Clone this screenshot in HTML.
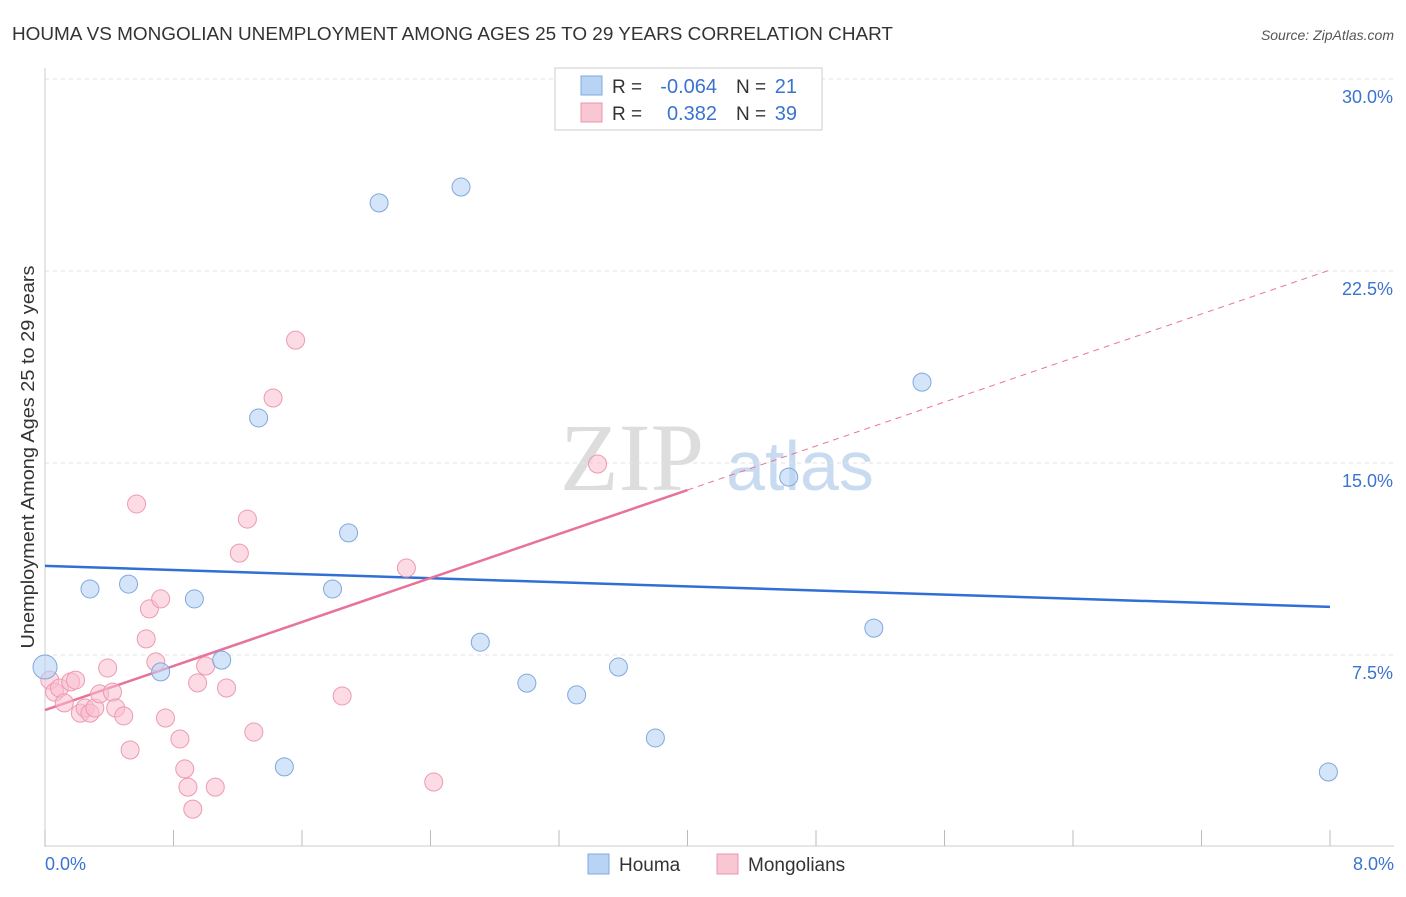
<!DOCTYPE html>
<html><head><meta charset="utf-8"><style>
body{margin:0;background:#fff;font-family:"Liberation Sans",sans-serif;}
</style></head><body>
<svg width="1406" height="892" xmlns="http://www.w3.org/2000/svg" font-family="Liberation Sans, sans-serif">
<text x="12" y="40" font-size="18" fill="#333" textLength="881" lengthAdjust="spacingAndGlyphs">HOUMA VS MONGOLIAN UNEMPLOYMENT AMONG AGES 25 TO 29 YEARS CORRELATION CHART</text>
<text x="1394" y="40" font-size="14" fill="#555" text-anchor="end" font-style="italic">Source: ZipAtlas.com</text>
<text x="34" y="457" font-size="18" fill="#333" text-anchor="middle" textLength="383" lengthAdjust="spacingAndGlyphs" transform="rotate(-90 34 457)">Unemployment Among Ages 25 to 29 years</text>
<g><text x="632" y="490" font-size="96" fill="#ddd" font-family="Liberation Serif, serif" text-anchor="middle">ZIP</text><text x="800" y="490" font-size="70" fill="#c9dbf0" text-anchor="middle">atlas</text></g>
<g id="grid"></g><g id="axes"></g><g id="lines"></g><g id="pts"></g>
<g>
<rect x="555" y="68" width="267" height="62" fill="#fff" stroke="#ccc"/>
<rect x="581" y="76" width="21" height="19" fill="#b9d3f5" stroke="#7fa8dd"/>
<rect x="581" y="103" width="21" height="19" fill="#f9c6d4" stroke="#e896ad"/>
<text x="612" y="93" font-size="19" fill="#333">R =</text>
<text x="717" y="93" font-size="20" fill="#3a74d0" text-anchor="end">-0.064</text>
<text x="736" y="93" font-size="19" fill="#333">N =</text>
<text x="797" y="93" font-size="20" fill="#3a74d0" text-anchor="end">21</text>
<text x="612" y="120" font-size="19" fill="#333">R =</text>
<text x="717" y="120" font-size="20" fill="#3a74d0" text-anchor="end">0.382</text>
<text x="736" y="120" font-size="19" fill="#333">N =</text>
<text x="797" y="120" font-size="20" fill="#3a74d0" text-anchor="end">39</text>
</g>
<g>
<rect x="588" y="854" width="21" height="20" fill="#b9d3f5" stroke="#7fa8dd"/>
<text x="619" y="871" font-size="19" fill="#333">Houma</text>
<rect x="717" y="854" width="21" height="20" fill="#f9c6d4" stroke="#e896ad"/>
<text x="748" y="871" font-size="19" fill="#333">Mongolians</text>
</g>
</svg>
<script>
const houmaX=[0,0.28,0.52,0.72,0.93,1.10,1.33,1.49,1.79,1.89,2.08,2.59,2.71,3.0,3.31,3.57,3.80,4.63,5.16,5.46,7.99];
const houmaY=[7.03,10.08,10.27,6.84,9.69,7.30,16.76,3.13,10.08,12.27,25.16,25.78,8.0,6.4,5.94,7.03,4.26,14.45,8.55,18.16,2.93];
const mongX=[0.03,0.06,0.09,0.12,0.16,0.19,0.22,0.25,0.28,0.31,0.34,0.39,0.42,0.44,0.49,0.53,0.57,0.63,0.65,0.69,0.72,0.75,0.84,0.87,0.89,0.92,0.95,1.00,1.06,1.13,1.21,1.26,1.30,1.42,1.56,1.85,2.25,2.42,3.44];
const mongY=[6.52,6.05,6.21,5.63,6.45,6.52,5.23,5.43,5.23,5.43,5.98,6.99,6.05,5.43,5.12,3.79,13.40,8.13,9.30,7.23,9.69,5.04,4.22,3.05,2.34,1.48,6.41,7.07,2.34,6.21,11.48,12.81,4.49,17.54,19.80,5.90,10.90,2.54,14.96];
const houmaTrend=[10.98,9.38];
const mongTrend=[5.35,22.54];
const yTicks=[7.5,15,22.5,30];
const yTickLabels=["7.5%","15.0%","22.5%","30.0%"];
const xTickLabels=["0.0%","8.0%"];
const NS="http://www.w3.org/2000/svg";
const sx=v=>45+v*160.625, sy=v=>847-v*25.6;
function mk(p,t,a){const e=document.createElementNS(NS,t);for(const k in a)e.setAttribute(k,a[k]);document.getElementById(p).appendChild(e);return e;}
yTicks.forEach((t,i)=>{
 const g=mk('grid','line',{x1:45,x2:1394,y1:sy(t),y2:sy(t),stroke:'#e2e2e2','stroke-dasharray':'4,4'});
 
 
 const l=mk('axes','text',{x:1393,y:sy(t)+24,'font-size':18,fill:'#3a74d0','text-anchor':'end'});l.textContent=yTickLabels[i];
 
 
});
let ax=mk('axes','line',{x1:45,x2:45,y1:68,y2:847,stroke:'#ccc'});


ax=mk('axes','line',{x1:45,x2:1394,y1:846,y2:846,stroke:'#ccc'});


for(let i=0;i<=10;i++){const t=mk('axes','line',{x1:sx(i*0.8),x2:sx(i*0.8),y1:830,y2:846,stroke:'#bbb'});
 
 }
[[0,45,'start'],[8,1394,'end']].forEach((d,i)=>{const l=mk('axes','text',{x:d[1],y:870,'font-size':18,fill:'#3a74d0','text-anchor':d[2]});l.textContent=xTickLabels[i];
 
 });
let ln=mk('lines','line',{x1:sx(0),y1:sy(houmaTrend[0]),x2:sx(8),y2:sy(houmaTrend[1]),stroke:'#2f6fd6','stroke-width':2.5});


const mAt=x=>mongTrend[0]+(mongTrend[1]-mongTrend[0])*x/8;
ln=mk('lines','line',{x1:sx(0),y1:sy(mAt(0)),x2:sx(4),y2:sy(mAt(4)),stroke:'#e8739a','stroke-width':2.5});


ln=mk('lines','line',{x1:sx(4),y1:sy(mAt(4)),x2:sx(8),y2:sy(mAt(8)),stroke:'#e8739a','stroke-width':1,'stroke-dasharray':'6,5'});


mongX.forEach((x,i)=>{const c=mk('pts','circle',{cx:sx(x),cy:sy(mongY[i]),r:9,fill:'rgba(249,190,207,0.55)',stroke:'#ec9ab2','stroke-width':1});
 
 });
houmaX.forEach((x,i)=>{const c=mk('pts','circle',{cx:sx(x),cy:sy(houmaY[i]),r:i==0?12:9,fill:'rgba(185,211,245,0.6)',stroke:'#7fa8dd','stroke-width':1});
 
 });
</script>
</body></html>
